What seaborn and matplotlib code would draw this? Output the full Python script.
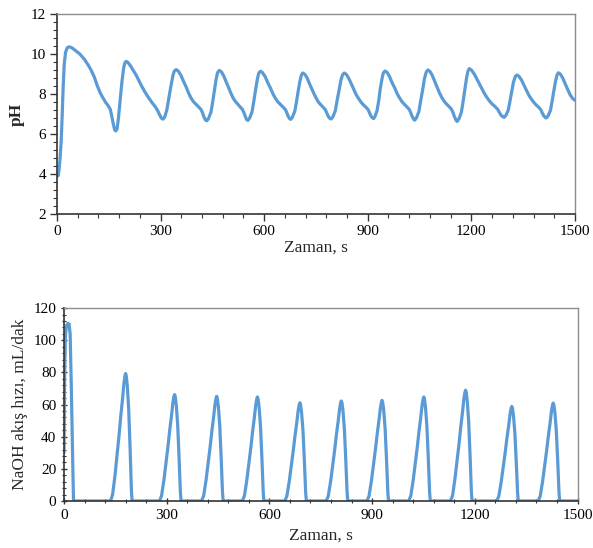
import matplotlib
matplotlib.use("Agg")
import matplotlib.pyplot as plt
from matplotlib.ticker import MultipleLocator
import pandas as pd
import seaborn as sns

# pH degerleri
zaman_ph = [0, 3, 6, 9, 12, 15, 18, 21, 25, 30, 36, 44, 55, 66, 80, 92, 100, 108, 116, 124,
            130, 140, 148, 154, 158, 163, 167, 170, 174, 178, 183, 188, 193, 197, 201,
            206, 213, 220, 229, 237, 245, 254, 263, 276, 282, 287, 292, 296, 302, 307,
            312, 318, 324, 330, 336, 340, 345,
            351, 359, 366, 374, 381, 388, 395, 403, 410, 417, 421, 425, 430, 434,
            439, 446, 451, 456, 461, 465, 470,
            476, 483, 490, 497, 504, 510, 517, 524, 530, 537, 541, 545, 549, 553,
            558, 565, 570, 575, 580, 584, 589,
            595, 603, 610, 618, 625, 632, 639, 647, 654, 661, 665, 669, 674, 677,
            682, 689, 694, 699, 704, 708, 712,
            718, 725, 731, 738, 745, 751, 757, 764, 770, 777, 781, 785, 790, 794,
            799, 806, 811, 817, 822, 827, 832,
            838, 845, 852, 859, 866, 873, 880, 887, 894, 901, 905, 909, 914, 917,
            921, 927, 932, 936, 941, 945, 950,
            956, 963, 970, 978, 985, 992, 999, 1006, 1013, 1020, 1024, 1028, 1033, 1036,
            1041, 1048, 1053, 1059, 1064, 1069, 1074,
            1080, 1087, 1094, 1101, 1108, 1115, 1122, 1129, 1136, 1143, 1147, 1151, 1156, 1159,
            1164, 1171, 1176, 1181, 1186, 1190, 1194,
            1200, 1209, 1218, 1227, 1236, 1244, 1252, 1260, 1268, 1276, 1281, 1286, 1291, 1295,
            1300, 1307, 1312, 1317, 1322, 1327, 1332,
            1338, 1345, 1352, 1359, 1366, 1373, 1380, 1387, 1394, 1401, 1405, 1409, 1414, 1417,
            1422, 1429, 1434, 1439, 1444, 1448, 1452,
            1458, 1465, 1472, 1479, 1486, 1493, 1500]
ph = [4.05, 3.9, 4.2, 4.8, 5.6, 6.9, 8.4, 9.5, 10.1, 10.32, 10.36, 10.3, 10.15, 10.0, 9.72, 9.4, 9.15, 8.85, 8.45, 8.1,
      7.9, 7.6, 7.42, 7.25, 6.95, 6.5, 6.22, 6.15, 6.25, 6.8, 7.7, 8.6, 9.3, 9.58, 9.63,
      9.57, 9.4, 9.2, 8.95, 8.68, 8.4, 8.12, 7.87, 7.55, 7.42, 7.3, 7.15, 7.0, 6.8, 6.74,
      6.85, 7.2, 7.8, 8.4, 8.95, 9.15, 9.22,
      9.15, 8.93, 8.65, 8.35, 8.05, 7.8, 7.62, 7.48, 7.36, 7.23, 7.08, 6.88, 6.7, 6.66,
      6.78, 7.1, 7.62, 8.2, 8.75, 9.07, 9.18,
      9.11, 8.9, 8.6, 8.32, 8.02, 7.8, 7.62, 7.48, 7.36, 7.23, 7.08, 6.9, 6.72, 6.68,
      6.8, 7.12, 7.64, 8.2, 8.72, 9.03, 9.14,
      9.07, 8.86, 8.58, 8.3, 8.02, 7.8, 7.62, 7.48, 7.36, 7.23, 7.08, 6.9, 6.76, 6.73,
      6.85, 7.16, 7.66, 8.2, 8.68, 8.96, 9.05,
      8.98, 8.78, 8.52, 8.25, 7.98, 7.78, 7.6, 7.46, 7.35, 7.22, 7.06, 6.9, 6.78, 6.75,
      6.86, 7.16, 7.66, 8.2, 8.68, 8.96, 9.05,
      8.98, 8.78, 8.52, 8.25, 7.98, 7.78, 7.6, 7.46, 7.35, 7.22, 7.06, 6.9, 6.8, 6.77,
      6.88, 7.18, 7.7, 8.25, 8.75, 9.05, 9.15,
      9.08, 8.87, 8.58, 8.3, 8.02, 7.8, 7.62, 7.48, 7.36, 7.23, 7.08, 6.9, 6.73, 6.69,
      6.81, 7.12, 7.64, 8.22, 8.76, 9.08, 9.2,
      9.13, 8.92, 8.62, 8.33, 8.04, 7.8, 7.62, 7.48, 7.36, 7.22, 7.06, 6.86, 6.67, 6.63,
      6.76, 7.08, 7.62, 8.22, 8.8, 9.14, 9.27,
      9.2, 8.98, 8.68, 8.38, 8.08, 7.85, 7.66, 7.5, 7.38, 7.24, 7.08, 6.94, 6.86, 6.83,
      6.93, 7.2, 7.66, 8.15, 8.6, 8.87, 8.95,
      8.88, 8.7, 8.45, 8.2, 7.95, 7.76, 7.6, 7.46, 7.35, 7.22, 7.06, 6.92, 6.83, 6.8,
      6.9, 7.18, 7.66, 8.18, 8.66, 8.95, 9.06,
      8.99, 8.78, 8.5, 8.22, 7.96, 7.78, 7.68]

# NaOH akis hizi (mL/dak)
zaman_naoh = [0, 2, 4, 7, 11, 15, 18, 21, 24, 27, 28,
              136, 142, 149, 155, 161, 166, 171, 175, 178, 180, 182, 185, 189, 193, 197, 199,
              279, 285, 292, 298, 304, 309, 314, 318, 321, 323, 325, 328, 332, 336, 340, 342,
              402, 408, 415, 421, 427, 432, 437, 441, 444, 446, 448, 451, 455, 459, 463, 465,
              521, 527, 534, 540, 546, 551, 556, 560, 563, 565, 567, 570, 574, 578, 582, 584,
              645, 651, 658, 664, 670, 675, 680, 684, 687, 689, 691, 694, 698, 702, 706, 708,
              766, 772, 779, 785, 791, 796, 801, 805, 808, 810, 812, 815, 819, 823, 827, 829,
              885, 891, 898, 904, 910, 915, 920, 924, 927, 929, 931, 934, 938, 942, 946, 948,
              1007, 1013, 1020, 1026, 1032, 1037, 1042, 1046, 1049, 1051, 1053, 1056, 1060, 1064, 1068, 1070,
              1129, 1135, 1142, 1148, 1154, 1159, 1164, 1168, 1171, 1173, 1175, 1178, 1182, 1186, 1190, 1192,
              1264, 1270, 1277, 1283, 1289, 1294, 1299, 1303, 1306, 1308, 1310, 1313, 1317, 1321, 1325, 1327,
              1385, 1391, 1398, 1404, 1410, 1415, 1420, 1424, 1427, 1429, 1431, 1434, 1438, 1442, 1446, 1448,
              1500]
naoh = [30, 80, 102, 109, 110.5, 110, 104, 75, 40, 8, 0,
        0, 4.0, 15.9, 28.5, 41.2, 53.1, 63.4, 73.0, 77.7, 79.3, 77.7, 71.4, 57.1, 33.3, 6.3, 0,
        0, 3.3, 13.2, 23.8, 34.4, 44.4, 53.0, 60.9, 64.9, 66.2, 64.9, 59.6, 47.7, 27.8, 5.3, 0,
        0, 3.3, 13.0, 23.4, 33.9, 43.6, 52.1, 59.9, 63.8, 65.1, 63.8, 58.6, 46.9, 27.3, 5.2, 0,
        0, 3.2, 12.9, 23.3, 33.6, 43.3, 51.8, 59.5, 63.4, 64.7, 63.4, 58.2, 46.6, 27.2, 5.2, 0,
        0, 3.1, 12.2, 22.0, 31.8, 40.9, 48.9, 56.2, 59.9, 61.1, 59.9, 55.0, 44.0, 25.7, 4.9, 0,
        0, 3.1, 12.4, 22.4, 32.3, 41.7, 49.8, 57.2, 61.0, 62.2, 61.0, 56.0, 44.8, 26.1, 5.0, 0,
        0, 3.1, 12.5, 22.5, 32.6, 41.9, 50.1, 57.6, 61.3, 62.6, 61.3, 56.3, 45.1, 26.3, 5.0, 0,
        0, 3.2, 12.9, 23.3, 33.6, 43.3, 51.8, 59.5, 63.4, 64.7, 63.4, 58.2, 46.6, 27.2, 5.2, 0,
        0, 3.4, 13.8, 24.8, 35.8, 46.2, 55.1, 63.4, 67.5, 68.9, 67.5, 62.0, 49.6, 28.9, 5.5, 0,
        0, 2.9, 11.8, 21.2, 30.6, 39.4, 47.0, 54.1, 57.6, 58.8, 57.6, 52.9, 42.3, 24.7, 4.7, 0,
        0, 3.0, 12.2, 21.9, 31.7, 40.8, 48.7, 56.0, 59.7, 60.9, 59.7, 54.8, 43.8, 25.6, 4.9, 0,
        0]

renk = "#5b9bd5"

sns.set_theme(style="white")
plt.rcParams["font.family"] = ["Liberation Serif", "DejaVu Serif"]

df_ph = pd.DataFrame({"t": zaman_ph, "ph": ph})
df_naoh = pd.DataFrame({"t": zaman_naoh, "naoh": naoh})

fig = plt.figure(figsize=(5.93, 5.48), dpi=100)
ax1 = fig.add_axes([0.0961, 0.6095, 0.8735, 0.365])
ax2 = fig.add_axes([0.1079, 0.0858, 0.866, 0.352])

sns.lineplot(data=df_ph, x="t", y="ph", ax=ax1, color=renk, linewidth=2.3, sort=False)
sns.lineplot(data=df_naoh, x="t", y="naoh", ax=ax2, color=renk, linewidth=2.3, sort=False)

ax1.set_xlim(0, 1500)
ax1.set_ylim(2, 12)
ax1.xaxis.set_major_locator(MultipleLocator(300))
ax1.xaxis.set_minor_locator(MultipleLocator(60))
ax1.yaxis.set_major_locator(MultipleLocator(2))
ax1.yaxis.set_minor_locator(MultipleLocator(0.4))
ax1.set_xlabel("Zaman, s", fontsize=12.5, labelpad=1)
ax1.set_ylabel("pH", fontsize=12.5, fontweight="bold", labelpad=4)

ax2.set_xlim(0, 1500)
ax2.set_ylim(0, 120)
ax2.xaxis.set_major_locator(MultipleLocator(300))
ax2.xaxis.set_minor_locator(MultipleLocator(60))
ax2.yaxis.set_major_locator(MultipleLocator(20))
ax2.yaxis.set_minor_locator(MultipleLocator(4))
ax2.set_xlabel("Zaman, s", fontsize=12.5, labelpad=4)
ax2.set_ylabel("NaOH akış hızı, mL/dak", fontsize=12.5, labelpad=4)

for ax, yon in [(ax1, "out"), (ax2, "inout")]:
    ax.tick_params(which="major", direction=yon, length=5, width=1, color="#333333",
                   labelsize=11, labelcolor="black", bottom=True, left=True, pad=3)
    ax.tick_params(which="minor", direction=yon, length=3, width=0.8, color="#333333",
                   bottom=True, left=True)
    for s in ["left", "bottom"]:
        ax.spines[s].set_color("#333333")
        ax.spines[s].set_linewidth(1.2)
    for s in ["top", "right"]:
        ax.spines[s].set_color("#8c8c8c")
        ax.spines[s].set_linewidth(1.0)

fig.savefig("out.png", dpi=100)
